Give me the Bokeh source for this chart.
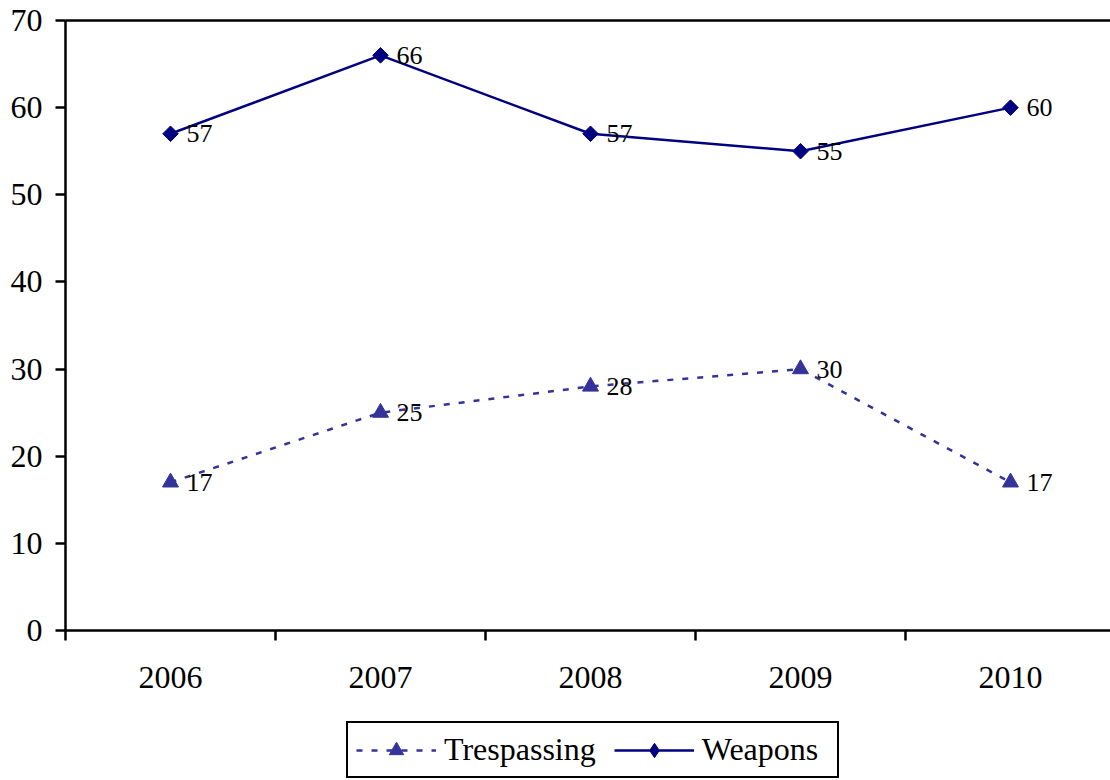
from bokeh.plotting import figure
from bokeh.layouts import column
from bokeh.models import Range1d, FixedTicker, LinearAxis, Legend, LegendItem, ColumnDataSource
from bokeh.embed import file_html
from bokeh.resources import INLINE
from bokeh.core.properties import value
import math

years = ["2006", "2007", "2008", "2009", "2010"]
trespassing = [17, 25, 28, 30, 17]
weapons = [57, 66, 57, 55, 60]
y_ticks = [0, 10, 20, 30, 40, 50, 60, 70]

FONT = "Liberation Serif"
TRES = "#333399"
WEAP = "#000080"
xpos = list(range(1, len(years) + 1))
boundaries = [i + 0.5 for i in range(0, len(years) + 1)]

src = ColumnDataSource(dict(
    x=xpos, tres=trespassing, weap=weapons,
    tres_lbl=[str(v) for v in trespassing], weap_lbl=[str(v) for v in weapons],
))

W = 1110
H_MAIN, H_LEG = 700, 80
LEFT, TOP, BOTTOM = 65, 20, 70
CAT_W = 210

p = figure(width=W, height=H_MAIN, output_backend="svg", toolbar_location=None,
           x_range=Range1d(0.5, 0.5 + (W - LEFT) / CAT_W), y_range=Range1d(0, 70),
           min_border_left=LEFT, min_border_top=TOP, min_border_right=0, min_border_bottom=BOTTOM)
p.xgrid.visible = False
p.ygrid.visible = False
p.outline_line_color = None
p.background_fill_color = "white"
p.border_fill_color = "white"

# x axis
xa = p.xaxis[0]
xa.ticker = FixedTicker(ticks=xpos, minor_ticks=boundaries)
xa.major_label_overrides = {x: y for x, y in zip(xpos, years)}
xa.major_tick_out = 0
xa.major_tick_in = 0
xa.minor_tick_out = 10
xa.minor_tick_in = 0
xa.minor_tick_line_width = 2.5
xa.minor_tick_line_color = "black"
xa.axis_line_width = 2.5
xa.axis_line_color = "black"
xa.major_label_text_font = FONT
xa.major_label_text_font_size = "32px"
xa.major_label_text_color = "black"
xa.major_label_standoff = 26

# y axis
ya = p.yaxis[0]
ya.ticker = FixedTicker(ticks=y_ticks)
ya.major_tick_out = 10
ya.major_tick_in = 0
ya.minor_tick_out = 0
ya.minor_tick_in = 0
ya.major_tick_line_width = 2.5
ya.major_tick_line_color = "black"
ya.axis_line_width = 2.5
ya.axis_line_color = "black"
ya.major_label_text_font = FONT
ya.major_label_text_font_size = "32px"
ya.major_label_text_color = "black"
ya.major_label_standoff = 13

# top border line
top = LinearAxis(ticker=FixedTicker(ticks=[]), major_label_text_font_size="0px",
                 major_tick_out=0, major_tick_in=0, minor_tick_out=0, minor_tick_in=0,
                 axis_line_width=2.5, axis_line_color="black")
p.add_layout(top, "above")

line_t = dict(line_color=TRES, line_width=2.5, line_dash="6 9")
mark_t = dict(marker="triangle", size=16, fill_color=TRES, line_color=TRES)
line_w = dict(line_color=WEAP, line_width=2.5)

p.line("x", "tres", source=src, **line_t)
p.scatter("x", "tres", source=src, **mark_t)
p.line("x", "weap", source=src, **line_w)
p.scatter("x", "weap", source=src, marker="square", angle=math.pi / 4, size=11,
          fill_color=WEAP, line_color=WEAP)

for col, lbl in (("tres", "tres_lbl"), ("weap", "weap_lbl")):
    p.text("x", col, text=lbl, source=src, x_offset=16, text_baseline="middle", text_align="left",
           text_font=value(FONT), text_font_size="26px", text_color="black")

# legend strip below the chart (its frame is aligned with the chart's frame)
lg = figure(width=W, height=H_LEG, output_backend="svg", toolbar_location=None,
            x_range=Range1d(-2, -1), y_range=Range1d(-2, -1),
            x_axis_location=None, y_axis_location=None,
            min_border_left=0, min_border_right=0, min_border_top=0, min_border_bottom=0)
lg.xgrid.visible = False
lg.ygrid.visible = False
lg.outline_line_color = None
lg.background_fill_color = "white"
lg.border_fill_color = "white"

# legend sample renderers (share the styles; their data lie outside this strip's ranges)
r_tl = lg.line("x", "tres", source=src, **line_t)
r_ts = lg.scatter("x", "tres", source=src, **mark_t)
r_wl = lg.line("x", "weap", source=src, **line_w)
r_wd = lg.scatter("x", "weap", source=src, marker="diamond", size=11, fill_color=WEAP, line_color=WEAP)

legend = Legend(items=[LegendItem(label="Trespassing", renderers=[r_tl, r_ts]),
                       LegendItem(label="Weapons", renderers=[r_wl, r_wd])],
                orientation="horizontal", location=(281, 2),
                border_line_color="black", border_line_width=2, border_line_alpha=1,
                background_fill_color="white", background_fill_alpha=1,
                label_text_font=FONT, label_text_font_size="32px", label_text_color="black",
                glyph_width=80, glyph_height=36, padding=8, spacing=18, label_standoff=8,
                label_width=127, margin=0)
lg.add_layout(legend, "center")

layout = column(p, lg, spacing=0)
open("out.html", "w").write(file_html(layout, INLINE))
